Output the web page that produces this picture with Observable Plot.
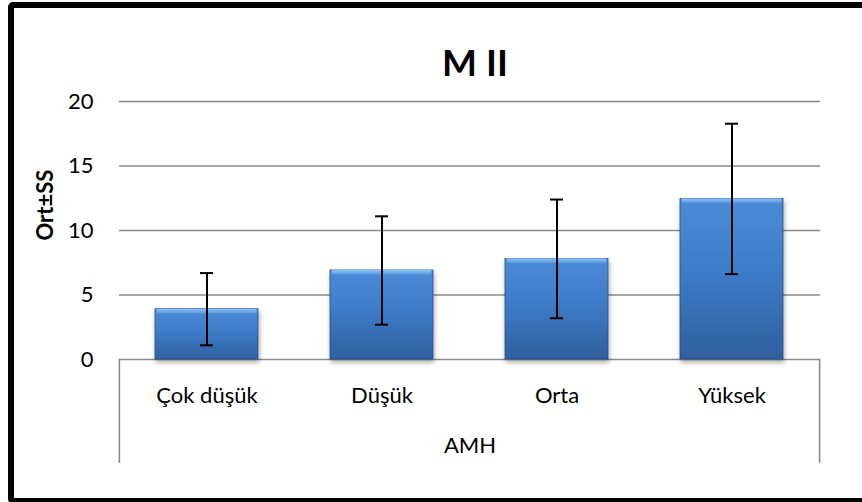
<!DOCTYPE html>
<html>
<head>
<meta charset="utf-8">
<script src="https://cdn.jsdelivr.net/npm/d3@7"></script>
<script src="https://cdn.jsdelivr.net/npm/@observablehq/plot@0.6"></script>
<style>
  html, body { margin: 0; padding: 0; background: #fff; }
  #wrap { position: relative; width: 862px; height: 502px; overflow: hidden; font-family: Lato, "Open Sans", sans-serif; }
  #border { position: absolute; left: 8px; top: 2px; width: 900px; height: 490px; border: 6px solid #000; border-radius: 5px; box-sizing: content-box; pointer-events: none; }
  #title { position: absolute; left: 119px; width: 712px; top: 44px; line-height: 36px; text-align: center; font: bold 37px/36px Lato, "Open Sans", sans-serif; color: #000; }
  #chart { position: absolute; left: 0; top: 0; }
</style>
</head>
<body>
<div id="wrap">
  <div id="chart"></div>
  <div id="title">M II</div>
  <div id="border"></div>
</div>
<script>
const categories = ["Çok düşük", "Düşük", "Orta", "Yüksek"];
const means = [3.9, 6.9, 7.8, 12.45];
const sds = [2.8, 4.2, 4.6, 5.83];
const yTicks = [0, 5, 10, 15, 20];
const groupLabel = "AMH";
const yLabel = "Ort±SS";

const data = categories.map((c, i) => ({cat: c, mean: means[i], sd: sds[i]}));
const edges = [categories[0], categories[categories.length - 1]];

const W = 862, H = 502;
const mL = 119, mR = 42, mT = 101, mB = 143;
const step = (W - mL - mR) / categories.length;
const FONT = "Lato, 'Open Sans', sans-serif";

const plot = Plot.plot({
  width: W,
  height: H,
  marginLeft: mL,
  marginRight: mR,
  marginTop: mT,
  marginBottom: mB,
  style: {fontFamily: FONT, fontSize: "22px", color: "#000", background: "transparent", overflow: "visible"},
  x: {domain: categories, paddingInner: 0.41, paddingOuter: 0.205, label: null, tickSize: 0, tickPadding: 28},
  y: {domain: [0, 20], ticks: yTicks, label: null, tickSize: 0, tickPadding: 26},
  marks: [
    Plot.ruleY(yTicks, {stroke: "#8a8a8a", strokeWidth: 1.6}),
    Plot.ruleX(edges, {x: d => d, y1: 0, y2: -8.05, stroke: "#8a8a8a", strokeWidth: 1.6}),
    Plot.barY(data, {x: "cat", y: "mean", fill: "url(#barGrad)", stroke: "#2a4f82", strokeWidth: 0.8}),
    Plot.barY(data, {x: "cat", y1: d => d.mean, y2: d => d.mean - 0.35, fill: "url(#topGrad)", insetLeft: 1.5, insetRight: 1.5}),
    Plot.ruleX(data, {x: "cat", y1: d => d.mean - d.sd, y2: d => d.mean + d.sd, stroke: "#000", strokeWidth: 2}),
    Plot.tickY(data, {x: "cat", y: d => d.mean + d.sd, stroke: "#000", strokeWidth: 2, insetLeft: 45, insetRight: 45}),
    Plot.tickY(data, {x: "cat", y: d => d.mean - d.sd, stroke: "#000", strokeWidth: 2, insetLeft: 45, insetRight: 45}),
    Plot.text([groupLabel], {frameAnchor: "bottom", text: d => d, dy: 93, fontSize: 22}),
    Plot.text([yLabel], {frameAnchor: "left", text: d => d, rotate: -90, dx: -74, dy: 10, fontWeight: "bold", fontSize: 22})
  ]
});

const svg = d3.select(plot);
document.getElementById("chart").appendChild(plot);

const defs = svg.insert("defs", ":first-child");
const g = defs.append("linearGradient").attr("id", "barGrad").attr("x1", 0).attr("y1", 0).attr("x2", 0).attr("y2", 1);
g.append("stop").attr("offset", "0%").attr("stop-color", "#4c8ad6");
g.append("stop").attr("offset", "40%").attr("stop-color", "#3f7ecb");
g.append("stop").attr("offset", "100%").attr("stop-color", "#2f609f");
const t = defs.append("linearGradient").attr("id", "topGrad").attr("x1", 0).attr("y1", 0).attr("x2", 0).attr("y2", 1);
t.append("stop").attr("offset", "0%").attr("stop-color", "#8cc2f5");
t.append("stop").attr("offset", "100%").attr("stop-color", "#5b9ae2");
const f = defs.append("filter").attr("id", "shadow").attr("x", "-20%").attr("y", "-20%").attr("width", "140%").attr("height", "140%");
f.append("feDropShadow").attr("dx", 1).attr("dy", 3).attr("stdDeviation", 2.5).attr("flood-color", "#000").attr("flood-opacity", 0.35);

// outer separators: move from band centre to the category boundary
const edgeGroup = svg.selectAll("g[aria-label='rule']").filter((d, i) => i === 1);
edgeGroup.selectAll("line").each(function(d, i) {
  const shift = (i === 0 ? -1 : 1) * step / 2;
  const x = +this.getAttribute("x1");
  this.setAttribute("x1", x + shift);
  this.setAttribute("x2", x + shift);
});
svg.selectAll("g[aria-label='bar']").filter((d, i) => i === 0).attr("filter", "url(#shadow)");
</script>
</body>
</html>
